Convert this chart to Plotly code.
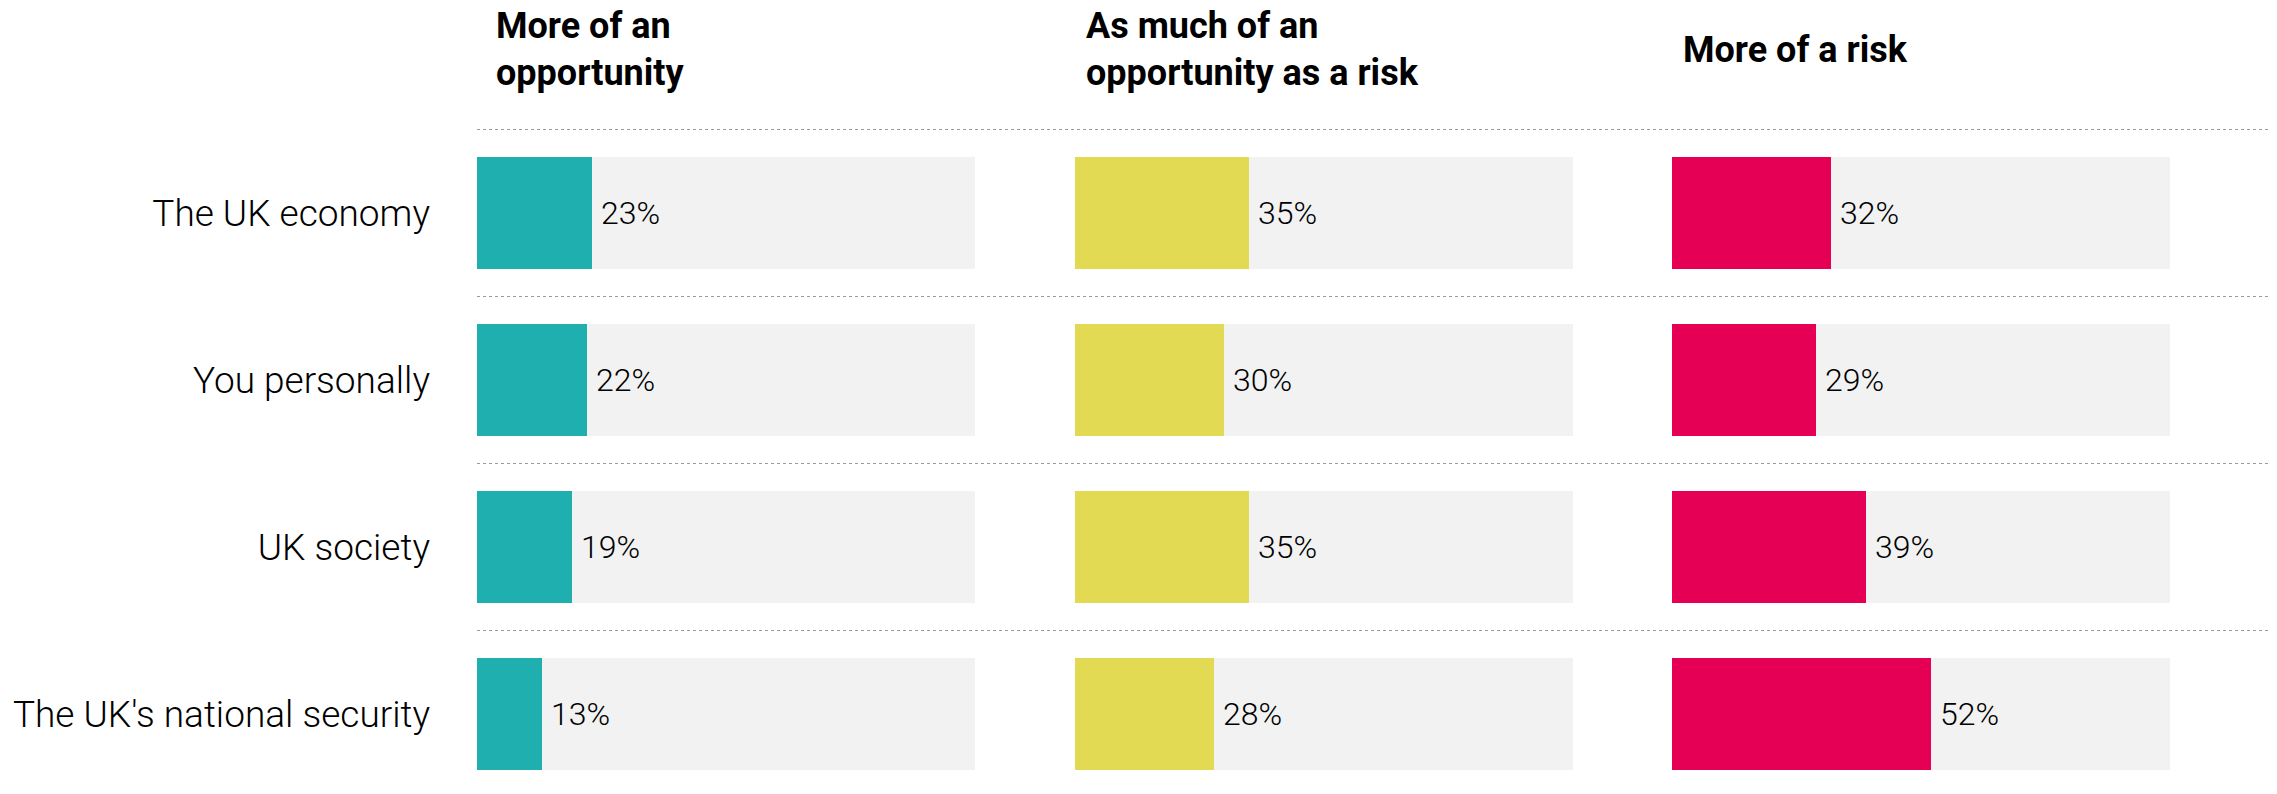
import plotly.graph_objects as go

# Survey results: share of respondents per view, by area
areas = ["The UK economy", "You personally", "UK society", "The UK's national security"]
opportunity = [23, 22, 19, 13]
both = [35, 30, 35, 28]
risk = [32, 29, 39, 52]

headers = ["More of an<br>opportunity", "As much of an<br>opportunity as a risk", "More of a risk"]
colors = ["#1EAFAE", "#E2DA52", "#E50056"]
series = [opportunity, both, risk]

W, H = 2277, 794
FONT = "Roboto"

# panel geometry in pixels
panel_left = [477, 1075, 1672]
panel_width = 498
header_left = [494, 1084, 1681]
row0_center = 213
row_step = 167

fig = go.Figure()

y_idx = list(range(len(areas)))
for k, vals in enumerate(series):
    xa = "x" if k == 0 else f"x{k + 1}"
    # light track behind each bar
    fig.add_trace(go.Bar(
        x=[100] * len(areas), y=y_idx, orientation="h", width=0.67,
        marker=dict(color="#F2F2F2", line=dict(width=0)),
        hoverinfo="skip", showlegend=False, xaxis=xa, yaxis="y",
    ))
    fig.add_trace(go.Bar(
        x=vals, y=y_idx, orientation="h", width=0.67,
        marker=dict(color=colors[k], line=dict(width=0)),
        showlegend=False, xaxis=xa, yaxis="y",
        hovertemplate="%{x}%<extra></extra>",
    ))
    # value labels just past the end of each bar
    for i, v in zip(y_idx, vals):
        fig.add_annotation(
            x=v, y=i, xref=xa, yref="y", text=f"{v}%",
            xanchor="left", yanchor="middle", xshift=7, showarrow=False,
            font=dict(family=FONT, size=32, color="#000000", weight=300),
        )

lo = -row0_center / row_step
hi = (H - row0_center) / row_step

layout = dict(
    width=W, height=H,
    margin=dict(l=0, r=0, t=0, b=0),
    paper_bgcolor="white", plot_bgcolor="rgba(0,0,0,0)",
    barmode="overlay", bargap=0,
    font=dict(family=FONT, color="#000000"),
    yaxis=dict(
        domain=[0, 1], range=[hi, lo],
        tickmode="array", tickvals=y_idx, ticktext=areas,
        tickfont=dict(family=FONT, size=37, color="#000000", weight=300),
        ticks="", ticklabelstandoff=46,
        showgrid=False, zeroline=False, showline=False,
        anchor="x",
    ),
)
for k in range(3):
    key = "xaxis" if k == 0 else f"xaxis{k + 1}"
    layout[key] = dict(
        domain=[panel_left[k] / W, (panel_left[k] + panel_width) / W],
        range=[0, 100], visible=False, fixedrange=True,
        anchor="y",
    )
fig.update_layout(**layout)

# dotted separators above each row
for i in range(len(areas)):
    fig.add_shape(
        type="line", xref="paper", yref="y",
        x0=panel_left[0] / W, x1=2270 / W, y0=i - 0.5, y1=i - 0.5,
        line=dict(color="#9a9a9a", width=1, dash="dot"),
    )

# column headers
for k, txt in enumerate(headers):
    fig.add_annotation(
        text=f"<b>{txt}</b>", xref="paper", yref="paper",
        x=header_left[k] / W, y=1 - 50 / H,
        xanchor="left", yanchor="middle", align="left",
        showarrow=False,
        font=dict(family=FONT, size=36, color="#000000"),
    )

fig.write_html("out.html")
